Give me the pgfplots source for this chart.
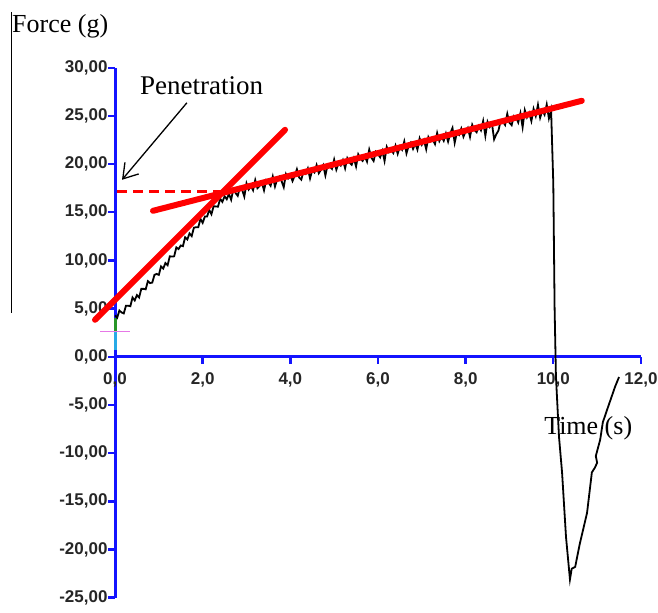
\documentclass[border=0pt]{standalone}
\usepackage{pgfplots}
\pgfplotsset{compat=1.18}
\usepackage{fontspec}
\setmainfont{Liberation Serif}
\newfontfamily\tickfont{Liberation Sans}
\usetikzlibrary{arrows.meta}
\definecolor{axblue}{RGB}{20,20,255}
\definecolor{pinkl}{RGB}{230,120,230}
\definecolor{greenl}{RGB}{40,150,40}
\definecolor{cyanl}{RGB}{40,170,230}
\begin{document}
\begin{tikzpicture}
\begin{axis}[
 scale only axis, width=526pt, height=530pt,
 xmin=0, xmax=12, ymin=-25, ymax=30,
 axis x line*=middle, axis y line*=left,
 axis line style={axblue, line width=3pt},
 tick style={axblue, line width=2.4pt},
 tick align=outside, major tick length=7pt,
 xtick={0,2,4,6,8,10,12}, ytick={-25,-20,-15,-10,-5,0,5,10,15,20,25,30},
 xticklabels={{0,0},{2,0},{4,0},{6,0},{8,0},{10,0},{12,0}},
 yticklabels={{-25,00},{-20,00},{-15,00},{-10,00},{-5,00},{0,00},{5,00},{10,00},{15,00},{20,00},{25,00},{30,00}},
 ticklabel style={font=\tickfont\bfseries\fontsize{17}{17}\selectfont, text=black!85},
 xticklabel style={yshift=-5pt},
 yticklabel style={xshift=3pt},
 hide obscured x ticks=false, hide obscured y ticks=false,
 clip=false,
]
% coloured bits on the y axis
\addplot[greenl, line width=3pt] coordinates {(0,4.05) (0,2.6)};
\addplot[cyanl, line width=3pt] coordinates {(0,2.6) (0,0.73)};
\addplot[pinkl, line width=1.4pt] coordinates {(-0.34,2.63) (0.34,2.63)};
% measured curve
\addplot[black, line width=1.8pt] coordinates {
(0.00,4.3) (0.05,4.05) (0.10,4.8) (0.15,4.6) (0.20,4.5) (0.25,5.3) (0.30,5.3) (0.35,5.25) (0.40,6.15) (0.45,5.85)
(0.50,6.4) (0.55,6.15) (0.60,7.05) (0.65,7.05) (0.70,7.0) (0.75,7.85) (0.80,7.65) (0.85,7.7) (0.90,8.5) (0.95,8.6)
(1.00,8.5) (1.05,9.38) (1.10,9.15) (1.15,9.73) (1.20,9.5) (1.25,10.43) (1.30,10.4) (1.35,10.43) (1.40,11.35) (1.45,11.18)
(1.50,11.55) (1.55,11.48) (1.60,12.4) (1.65,12.18) (1.70,12.8) (1.75,12.53) (1.80,13.4) (1.85,13.45) (1.90,13.45) (1.95,14.3)
(2.00,13.9) (2.05,14.55) (2.10,14.55) (2.15,15.25) (2.20,14.8) (2.25,15.63) (2.30,15.6) (2.35,15.58) (2.40,16.4) (2.45,16.08)
(2.50,16.65) (2.55,16.35) (2.60,16.9) (2.65,16.3) (2.70,17.4) (2.75,17.0) (2.80,16.7) (2.85,17.58) (2.90,17.35) (2.95,16.63)
(3.00,18.0) (3.05,17.36) (3.10,17.72) (3.15,17.28) (3.20,18.34) (3.25,17.50) (3.30,17.75) (3.35,18.11) (3.40,17.27) (3.45,18.33)
(3.50,18.09) (3.55,17.75) (3.60,18.71) (3.65,17.67) (3.70,18.43) (3.75,18.69) (3.80,18.24) (3.85,17.60) (3.90,18.96) (3.95,18.52)
(4.00,18.88) (4.05,18.24) (4.10,18.80) (4.15,19.46) (4.20,18.62) (4.25,18.38) (4.30,19.23) (4.35,18.99) (4.40,19.55) (4.45,18.51)
(4.50,19.37) (4.55,19.13) (4.60,19.89) (4.65,19.05) (4.70,19.41) (4.75,19.87) (4.80,18.82) (4.85,19.88) (4.90,19.74) (4.95,19.50)
(5.00,20.46) (5.05,19.42) (5.10,20.08) (5.15,19.84) (5.20,20.40) (5.25,19.56) (5.30,20.61) (5.35,20.17) (5.40,19.93) (5.45,20.59)
(5.50,19.75) (5.55,21.01) (5.60,20.57) (5.65,20.33) (5.70,20.79) (5.75,20.25) (5.80,21.50) (5.85,20.66) (5.90,20.32) (5.95,21.28)
(6.00,21.04) (6.05,20.70) (6.10,21.36) (6.15,20.32) (6.20,21.78) (6.25,21.24) (6.30,21.49) (6.35,21.15) (6.40,21.91) (6.45,21.07)
(6.50,21.83) (6.55,21.49) (6.60,22.35) (6.65,21.11) (6.70,21.87) (6.75,22.23) (6.80,21.58) (6.85,22.14) (6.90,21.50) (6.95,22.66)
(7.00,22.02) (7.05,22.48) (7.10,21.54) (7.15,22.80) (7.20,22.36) (7.25,22.52) (7.30,22.07) (7.35,23.23) (7.40,22.39) (7.45,22.85)
(7.50,22.41) (7.55,23.17) (7.60,22.33) (7.65,23.19) (7.70,23.75) (7.75,22.21) (7.80,23.26) (7.85,23.02) (7.90,23.68) (7.95,22.84)
(8.00,23.40) (8.05,23.76) (8.10,22.82) (8.15,24.08) (8.20,23.54) (8.25,23.30) (8.30,23.95) (8.35,23.51) (8.40,24.47) (8.45,22.93)
(8.50,24.39) (8.55,23.85) (8.60,24.21) (8.65,22.57) (8.70,23.10) (8.75,23.49) (8.80,24.54) (8.85,24.40) (8.90,24.06) (8.95,25.22)
(9.00,24.28) (9.05,24.04) (9.10,25.00) (9.15,24.86) (9.20,24.32) (9.25,25.28) (9.30,23.83) (9.35,25.59) (9.40,24.85) (9.45,25.31)
(9.50,24.47) (9.55,25.73) (9.60,24.99) (9.65,26.15) (9.70,24.81) (9.75,25.57) (9.80,25.12) (9.85,26.18) (9.90,24.74) (9.95,25.6)
(10.0,18) (10.03,5) (10.06,-2) (10.13,-8.3) (10.2,-12.0) (10.29,-18.7) (10.38,-23.1)
(10.42,-22.0) (10.5,-21.8) (10.6,-19.5) (10.77,-16.2) (10.88,-12.0) (10.95,-11.5) (11.0,-11.0) (10.97,-10.3)
(11.07,-8.6) (11.13,-6.8) (11.25,-5.2) (11.41,-3.1) (11.5,-2.1)
};
% fitted lines
\addplot[red, line width=6pt, line cap=round] coordinates {(-0.456,3.84) (3.88,23.56)};
\addplot[red, line width=6pt, line cap=round] coordinates {(0.867,15.15) (10.65,26.57)};
\addplot[red, line width=3pt, dash pattern=on 10pt off 6pt] coordinates {(0.05,17.2) (2.5,17.2)};
% annotations
\draw[black, line width=1.3pt, -{Straight Barb[length=14pt,width=18pt,line width=1.3pt]}] (axis cs:1.64,26.36) -- (axis cs:0.16,18.37);
\node[anchor=base west, inner sep=0pt, font=\fontsize{27}{27}\selectfont] at (axis cs:0.57,27.19) {Penetration};
\node[anchor=base west, inner sep=0pt, font=\fontsize{26}{26}\selectfont] at (axis cs:-2.35,33.62) {Force (g)};
\node[anchor=base west, inner sep=0pt, font=\fontsize{26}{26}\selectfont] at (axis cs:9.79,-8.09) {Time (s)};
\draw[black, line width=1.4pt] (axis cs:-2.357,35.8) -- (axis cs:-2.357,4.57);
\coordinate (bl) at (axis cs:-2.624,-26.55);
\coordinate (tr) at (axis cs:12.389,37.03);
\end{axis}
\pgfresetboundingbox
\useasboundingbox (bl) rectangle (tr);
\end{tikzpicture}
\end{document}
